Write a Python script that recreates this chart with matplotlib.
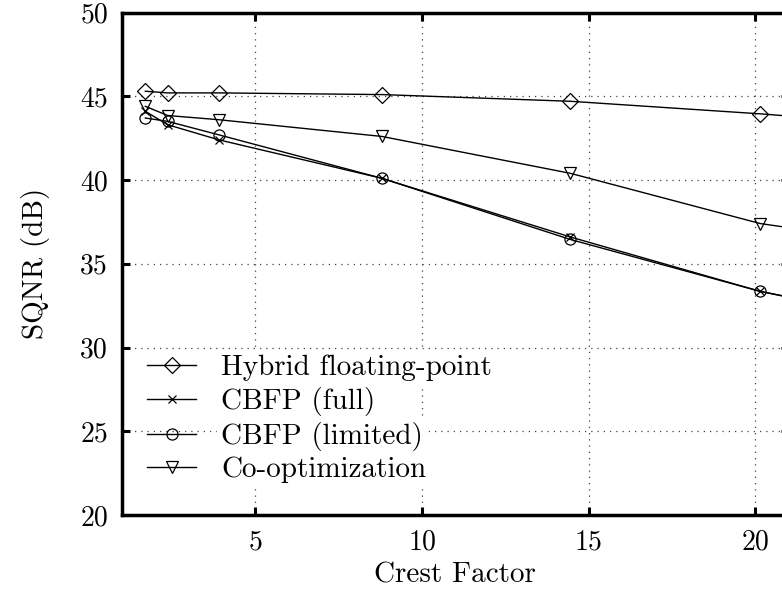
import matplotlib
matplotlib.use("Agg")
import matplotlib.pyplot as plt

crest = [1.7, 2.37, 3.9, 8.8, 14.45, 20.15, 25.0]
hybrid = [45.3, 45.2, 45.2, 45.1, 44.7, 43.95, 43.2]
cbfp_full = [44.1, 43.3, 42.4, 40.1, 36.6, 33.35, 31.4]
cbfp_lim = [43.7, 43.5, 42.7, 40.1, 36.45, 33.35, 31.4]
coopt = [44.4, 43.85, 43.6, 42.6, 40.4, 37.4, 36.0]
labels = ["Hybrid floating-point", "CBFP (full)", "CBFP (limited)", "Co-optimization"]
xticks = [5, 10, 15, 20]
yticks = [20, 25, 30, 35, 40, 45, 50]

plt.rcParams['font.family'] = 'serif'
plt.rcParams['font.serif'] = ['cmr10']
plt.rcParams['mathtext.fontset'] = 'cm'
plt.rcParams['axes.unicode_minus'] = False

fig = plt.figure(figsize=(7.82, 5.90), dpi=100)
x0 = 122 / 782
ax = fig.add_axes([x0, 75 / 590, (20 * 33.33) / 782, (515 - 12.5) / 590])

kw = dict(color='black', lw=1.0, mfc='none', mec='black', mew=0.9)
ax.plot(crest, hybrid, marker='D', ms=8, label=labels[0], **kw)
ax.plot(crest, cbfp_full, marker='x', ms=6, label=labels[1], **kw)
ax.plot(crest, cbfp_lim, marker='o', ms=8, label=labels[2], **kw)
ax.plot(crest, coopt, marker='v', ms=9, label=labels[3], **kw)

ax.set_xlim(1, 21)
ax.set_ylim(20, 50)
ax.set_xticks(xticks)
ax.set_yticks(yticks)
ax.tick_params(direction='in', length=6, width=2.2, labelsize=20, top=True, right=True, pad=10)
for s in ax.spines.values():
    s.set_linewidth(2.5)
ax.grid(True, linestyle=(0, (1, 4)), color='#444444', lw=0.9)
ax.set_xlabel('Crest Factor', fontsize=21, labelpad=5)
ax.set_ylabel('SQNR (dB)', fontsize=21, labelpad=22)

leg = ax.legend(loc='lower left', bbox_to_anchor=(0.0, 7 / 502.5), bbox_transform=ax.transAxes,
                frameon=False, fontsize=21, handlelength=1.7, handletextpad=0.85,
                labelspacing=0.2, borderaxespad=0.45, borderpad=0.4)
for t in leg.get_texts():
    t.set_bbox(dict(facecolor='white', edgecolor='none', pad=3))

fig.savefig('out.png', dpi=100)
